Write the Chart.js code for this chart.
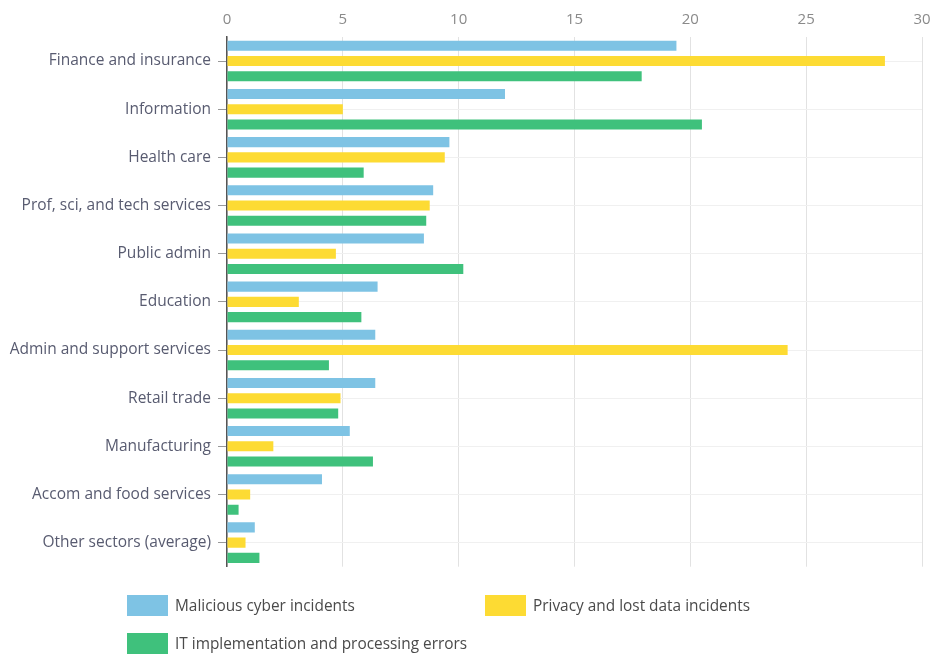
<!DOCTYPE html>
<html>
<head>
<meta charset="utf-8">
<script src="https://cdn.jsdelivr.net/npm/chart.js@4"></script>
<style>
  body { margin: 0; background: #fff; font-family: "Open Sans", sans-serif; }
  #wrap { position: relative; width: 935px; height: 583px; }
  #legend { position: absolute; left: 0; top: 0; width: 935px; height: 656px; pointer-events: none; }
  .item { position: absolute; display: flex; align-items: center; font-size: 15.4px; color: #4a4a4a; }
  .box { width: 41px; height: 21px; margin-right: 7px; }
</style>
</head>
<body>
<div id="wrap"><canvas id="chart"></canvas></div>
<div id="legend"></div>
<script>
const sectors = [
  'Finance and insurance', 'Information', 'Health care', 'Prof, sci, and tech services',
  'Public admin', 'Education', 'Admin and support services', 'Retail trade',
  'Manufacturing', 'Accom and food services', 'Other sectors (average)'
];
const malicious = [19.4, 12.0, 9.6, 8.9, 8.5, 6.5, 6.4, 6.4, 5.3, 4.1, 1.2];
const privacy   = [28.4, 5.0, 9.4, 8.75, 4.7, 3.1, 24.2, 4.9, 2.0, 1.0, 0.8];
const itErrors  = [17.9, 20.5, 5.9, 8.6, 10.2, 5.8, 4.4, 4.8, 6.3, 0.5, 1.4];
const seriesNames = [
  'Malicious cyber incidents',
  'Privacy and lost data incidents',
  'IT implementation and processing errors'
];
const colors = ['#7ec3e4', '#fddb33', '#3fc17c'];

const chart = new Chart(document.getElementById('chart'), {
  type: 'bar',
  data: {
    labels: sectors,
    datasets: [malicious, privacy, itErrors].map((d, i) => ({
      label: seriesNames[i],
      data: d,
      backgroundColor: colors[i],
      barPercentage: 0.66,
      categoryPercentage: 0.95
    }))
  },
  options: {
    indexAxis: 'y',
    responsive: true,
    maintainAspectRatio: false,
    animation: false,
    layout: { padding: { right: 13 } },
    plugins: { legend: { display: false }, tooltip: { enabled: false } },
    scales: {
      x: {
        position: 'top',
        min: 0,
        max: 30,
        ticks: { stepSize: 5, color: '#8a8a8a', font: { family: 'Open Sans', size: 15 }, padding: 8 },
        grid: { color: '#e2e2e2', drawTicks: false },
        border: { display: false },
        afterFit: s => { s.height = 37; s.paddingRight = 0; }
      },
      y: {
        ticks: { color: '#585b70', font: { family: 'Open Sans', size: 15.5 }, padding: 7 },
        grid: { offset: false, color: '#f0f0f0', tickColor: '#999', tickLength: 9 },
        border: { color: '#555', width: 1.5 },
        afterFit: s => { s.width = 227; }
      }
    }
  }
});

// legend laid out in two columns under the plot
const spots = [[127, 595], [485, 595], [127, 633]];
const legend = document.getElementById('legend');
chart.data.datasets.forEach((ds, i) => {
  const el = document.createElement('div');
  el.className = 'item';
  el.style.left = spots[i][0] + 'px';
  el.style.top = spots[i][1] + 'px';
  el.innerHTML = `<span class="box" style="background:${ds.backgroundColor}"></span>${ds.label}`;
  legend.appendChild(el);
});
</script>
</body>
</html>
